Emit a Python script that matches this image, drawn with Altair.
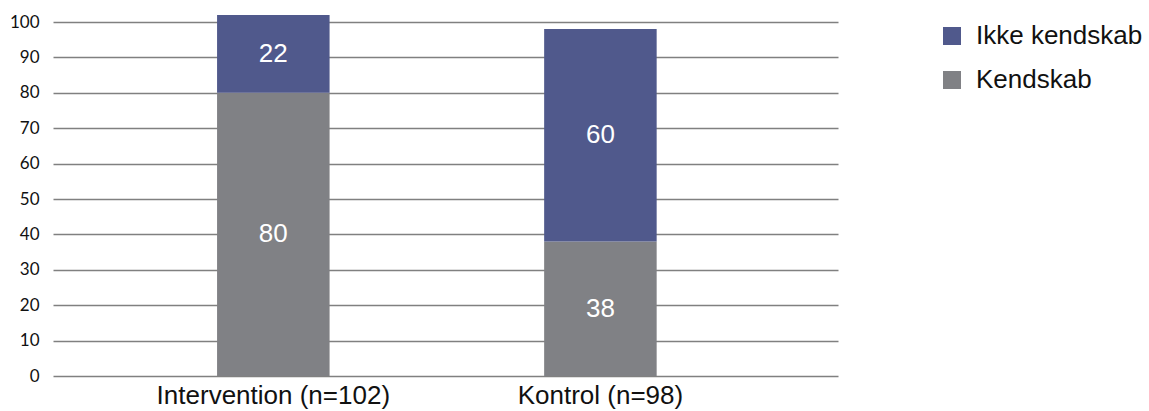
import altair as alt
import pandas as pd

groups = ["Intervention (n=102)", "Kontrol (n=98)"]
kendskab = [80, 38]
ikke_kendskab = [22, 60]
series = ["Ikke kendskab", "Kendskab"]
colors = ["#50598C", "#808185"]
y_ticks = [0, 10, 20, 30, 40, 50, 60, 70, 80, 90, 100]

rows = []
for g, k, ik in zip(groups, kendskab, ikke_kendskab):
    rows.append({"group": g, "series": "Kendskab", "value": k, "order": 0})
    rows.append({"group": g, "series": "Ikke kendskab", "value": ik, "order": 1})
df = pd.DataFrame(rows)

base = alt.Chart(df).transform_stack(
    stack="value", groupby=["group"], as_=["v0", "v1"],
    sort=[alt.SortField("order", order="ascending")]
).transform_calculate(mid="(datum.v0 + datum.v1) / 2")

xscale = alt.Scale(paddingInner=0.656, paddingOuter=0.528, align=0.475)
xaxis = alt.Axis(labelAngle=0, labelFontSize=26, labelFont="Liberation Sans",
                 labelColor="#111111", ticks=False, domain=False,
                 labelPadding=6, grid=False, labelLimit=0)
yscale = alt.Scale(domain=[0, 100], nice=False)
yaxis = alt.Axis(values=y_ticks, labelFontSize=17, labelFont="Lato",
                 labelColor="#111111", ticks=False, domain=False,
                 labelPadding=14, gridColor="#808080", gridWidth=1.3,
                 gridOpacity=1, labelOverlap=False)

bars = base.mark_bar(clip=False).encode(
    x=alt.X("group:N", sort=groups, title=None, scale=xscale, axis=xaxis),
    y=alt.Y("v0:Q", title=None, scale=yscale, axis=yaxis),
    y2="v1:Q",
    color=alt.Color("series:N", scale=alt.Scale(domain=series, range=colors),
                    legend=alt.Legend(title=None, orient="none", legendX=886, legendY=1,
                                      symbolType="square", symbolSize=324,
                                      symbolStrokeWidth=0, labelFontSize=26,
                                      labelFont="Liberation Sans", labelColor="#111111",
                                      rowPadding=18, labelOffset=11, labelLimit=0)),
)

labels = base.mark_text(color="white", fontSize=26, font="Liberation Sans").encode(
    x=alt.X("group:N", sort=groups, title=None, scale=xscale, axis=xaxis),
    y=alt.Y("mid:Q", title=None, scale=yscale, axis=yaxis),
    text=alt.Text("value:Q"),
)

chart = alt.layer(bars, labels).properties(
    width=785, height=354,
    background="white",
    autosize=alt.AutoSizeParams(type="none"),
    padding={"left": 53, "top": 22, "right": 311, "bottom": 35},
).configure_view(stroke=None)

chart.save("out.html", embed_options={"renderer": "svg", "actions": False})
